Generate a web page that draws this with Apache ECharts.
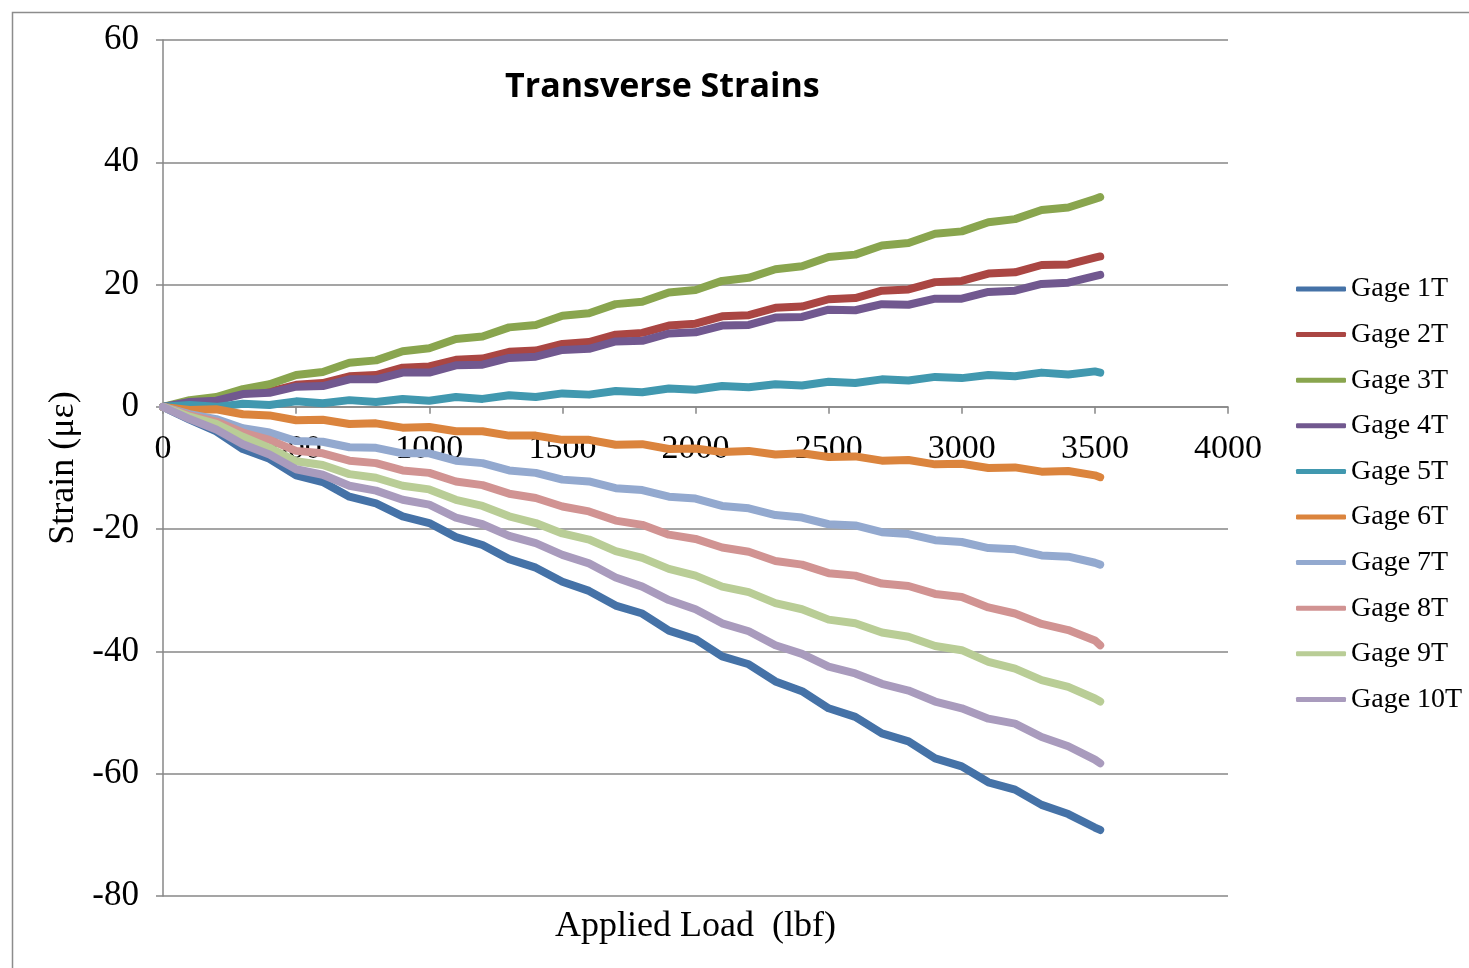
<!DOCTYPE html>
<html>
<head>
<meta charset="utf-8">
<title>Transverse Strains</title>
<script src="https://cdn.jsdelivr.net/npm/echarts@6/dist/echarts.min.js"></script>
<style>
  html, body { margin: 0; padding: 0; background: #ffffff; }
  #chart { width: 1469px; height: 968px; }
</style>
</head>
<body>
<div id="chart"></div>
<script>
// Applied load steps (lbf)
const loadLbf = [0, 100, 200, 300, 400, 500, 600, 700, 800, 900, 1000, 1100, 1200, 1300, 1400, 1500,
  1600, 1700, 1800, 1900, 2000, 2100, 2200, 2300, 2400, 2500, 2600, 2700, 2800, 2900, 3000,
  3100, 3200, 3300, 3400, 3500, 3520];

// Transverse strain readings per gage (microstrain)
const gage1T = [0, -2.1, -4.0, -6.9, -8.5, -11.2, -12.3, -14.7, -15.8, -17.9, -19.0, -21.3, -22.6, -24.9, -26.3, -28.6,
  -30.1, -32.5, -33.8, -36.6, -38.0, -40.8, -42.1, -44.9, -46.5, -49.3, -50.7, -53.4, -54.7, -57.5, -58.8,
  -61.4, -62.6, -65.1, -66.6, -68.8, -69.2];
const gage2T = [0, 0.8, 1.1, 2.2, 2.5, 3.6, 3.9, 5.0, 5.2, 6.4, 6.6, 7.7, 7.9, 9.0, 9.2, 10.3,
  10.6, 11.8, 12.1, 13.3, 13.6, 14.8, 15.0, 16.2, 16.4, 17.6, 17.8, 19.0, 19.2, 20.4, 20.6,
  21.8, 22.0, 23.2, 23.3, 24.4, 24.6];
const gage3T = [0, 1.1, 1.6, 2.9, 3.7, 5.2, 5.7, 7.2, 7.6, 9.1, 9.6, 11.1, 11.5, 13.0, 13.4, 14.9,
  15.3, 16.8, 17.2, 18.7, 19.1, 20.6, 21.1, 22.5, 23.0, 24.5, 24.9, 26.4, 26.8, 28.3, 28.7,
  30.2, 30.7, 32.2, 32.6, 34.0, 34.3];
const gage4T = [0, 0.8, 1.0, 2.1, 2.3, 3.3, 3.4, 4.5, 4.5, 5.6, 5.6, 6.8, 6.9, 8.0, 8.2, 9.3,
  9.5, 10.7, 10.8, 12.0, 12.2, 13.3, 13.4, 14.6, 14.7, 15.9, 15.8, 16.8, 16.7, 17.7, 17.7,
  18.8, 19.0, 20.1, 20.3, 21.4, 21.6];
const gage5T = [0, 0.3, 0.0, 0.5, 0.3, 0.9, 0.6, 1.1, 0.8, 1.3, 1.0, 1.6, 1.3, 1.9, 1.6, 2.2,
  2.0, 2.6, 2.4, 3.0, 2.8, 3.4, 3.2, 3.7, 3.5, 4.1, 3.9, 4.5, 4.3, 4.9, 4.7,
  5.2, 5.0, 5.6, 5.3, 5.8, 5.6];
const gage6T = [0, -0.5, -0.4, -1.2, -1.4, -2.2, -2.1, -2.8, -2.7, -3.4, -3.3, -4.0, -4.0, -4.7, -4.7, -5.4,
  -5.4, -6.2, -6.1, -6.9, -6.8, -7.4, -7.2, -7.8, -7.6, -8.2, -8.1, -8.8, -8.7, -9.4, -9.3,
  -10.0, -9.9, -10.6, -10.5, -11.2, -11.5];
const gage7T = [0, -1.2, -2.0, -3.5, -4.2, -5.6, -5.7, -6.6, -6.7, -7.6, -7.6, -8.8, -9.2, -10.4, -10.8, -11.9,
  -12.2, -13.3, -13.6, -14.7, -15.0, -16.2, -16.6, -17.7, -18.1, -19.2, -19.4, -20.5, -20.8, -21.8, -22.1,
  -23.1, -23.3, -24.3, -24.5, -25.5, -25.8];
const gage8T = [0, -1.4, -2.4, -4.2, -5.4, -7.2, -7.6, -8.8, -9.2, -10.4, -10.8, -12.2, -12.8, -14.2, -14.9, -16.3,
  -17.1, -18.6, -19.3, -20.9, -21.6, -23.0, -23.7, -25.2, -25.8, -27.2, -27.6, -28.9, -29.3, -30.6, -31.1,
  -32.8, -33.8, -35.5, -36.5, -38.2, -39.0];
const gage9T = [0, -1.6, -2.8, -4.9, -6.7, -8.9, -9.5, -11.0, -11.6, -12.9, -13.5, -15.2, -16.2, -17.9, -19.0, -20.7,
  -21.7, -23.6, -24.7, -26.5, -27.6, -29.4, -30.3, -32.1, -33.1, -34.8, -35.4, -36.9, -37.6, -39.1, -39.8,
  -41.7, -42.8, -44.7, -45.8, -47.7, -48.2];
const gage10T = [0, -2.0, -3.7, -6.1, -7.8, -10.2, -11.1, -12.9, -13.7, -15.2, -16.0, -18.1, -19.2, -21.1, -22.3, -24.2,
  -25.6, -27.9, -29.4, -31.6, -33.1, -35.4, -36.7, -39.0, -40.4, -42.5, -43.6, -45.3, -46.4, -48.2, -49.3,
  -51.0, -51.8, -54.0, -55.5, -57.7, -58.3];

const gageNames = ['Gage 1T', 'Gage 2T', 'Gage 3T', 'Gage 4T', 'Gage 5T',
  'Gage 6T', 'Gage 7T', 'Gage 8T', 'Gage 9T', 'Gage 10T'];
const gageValues = [gage1T, gage2T, gage3T, gage4T, gage5T, gage6T, gage7T, gage8T, gage9T, gage10T];
const gageColors = ['#4572A7', '#AA4643', '#89A54E', '#71588F', '#4198AF',
  '#DB843D', '#93A9CF', '#D19392', '#B9CD96', '#A99BBD'];

const yTicks = { min: -80, max: 60, step: 20 };
const xTicks = { min: 0, max: 4000, step: 500 };

const serif = '"Liberation Serif", "Times New Roman", serif';
const axisGray = '#878787';

// Plot box in pixels; the load axis is lifted from the bottom edge to the zero-strain level.
const plotBox = { left: 163, top: 40, width: 1065, height: 856 };
const zeroLift = -plotBox.height * (0 - yTicks.min) / (yTicks.max - yTicks.min);

const chart = echarts.init(document.getElementById('chart'), null, { renderer: 'canvas' });

chart.setOption({
  animation: false,
  backgroundColor: '#ffffff',
  color: gageColors,
  title: {
    text: 'Transverse Strains',
    left: 500,
    top: 65,
    textStyle: { fontFamily: '"Open Sans", Lato, sans-serif', fontWeight: 'bold', fontSize: 34, color: '#000' }
  },
  grid: { left: plotBox.left, top: plotBox.top, width: plotBox.width, height: plotBox.height, containLabel: false },
  legend: {
    orient: 'vertical',
    left: 1291,
    top: 269,
    icon: 'roundRect',
    itemWidth: 50,
    itemHeight: 5,
    itemGap: 15.6,
    textStyle: { fontFamily: serif, fontSize: 28, lineHeight: 30, color: '#000' },
    data: gageNames
  },
  xAxis: {
    type: 'value',
    min: xTicks.min,
    max: xTicks.max,
    interval: xTicks.step,
    offset: zeroLift,
    axisLine: { onZero: false, lineStyle: { color: axisGray, width: 1.5 } },
    axisTick: { show: true, inside: false, length: 7, lineStyle: { color: axisGray, width: 1.5 } },
    axisLabel: {
      fontFamily: serif, fontSize: 34, color: '#000', margin: 25,
      showMinLabel: true, showMaxLabel: true,
      formatter: (v) => String(v)
    },
    splitLine: { show: false }
  },
  yAxis: {
    type: 'value',
    min: yTicks.min,
    max: yTicks.max,
    interval: yTicks.step,
    name: 'Strain (με)',
    nameLocation: 'middle',
    nameGap: 77,
    nameTextStyle: { fontFamily: serif, fontSize: 36, color: '#000' },
    axisLine: { show: true, onZero: false, lineStyle: { color: axisGray, width: 1.5 } },
    axisTick: { show: true, inside: false, length: 7, lineStyle: { color: axisGray, width: 1.5 } },
    axisLabel: { fontFamily: serif, fontSize: 35, color: '#000', margin: 24 },
    splitLine: { show: true, lineStyle: { color: axisGray, width: 1.5 } }
  },
  graphic: [
    {
      type: 'rect',
      left: 10,
      top: 10,
      shape: { width: 1490, height: 990 },
      style: { fill: 'none', stroke: '#8c8c8c', lineWidth: 1.5 },
      silent: true,
      z: -10
    },
    {
      type: 'text',
      left: 555,
      top: 909,
      style: { text: 'Applied Load  (lbf)', font: '36px ' + serif, fill: '#000' },
      silent: true
    }
  ],
  series: gageNames.map((name, i) => ({
    name: name,
    type: 'line',
    data: loadLbf.map((x, k) => [x, gageValues[i][k]]),
    showSymbol: false,
    symbol: 'none',
    lineStyle: { width: 8, color: gageColors[i], cap: 'round', join: 'round' },
    itemStyle: { color: gageColors[i] },
    z: 3
  }))
});
</script>
</body>
</html>
